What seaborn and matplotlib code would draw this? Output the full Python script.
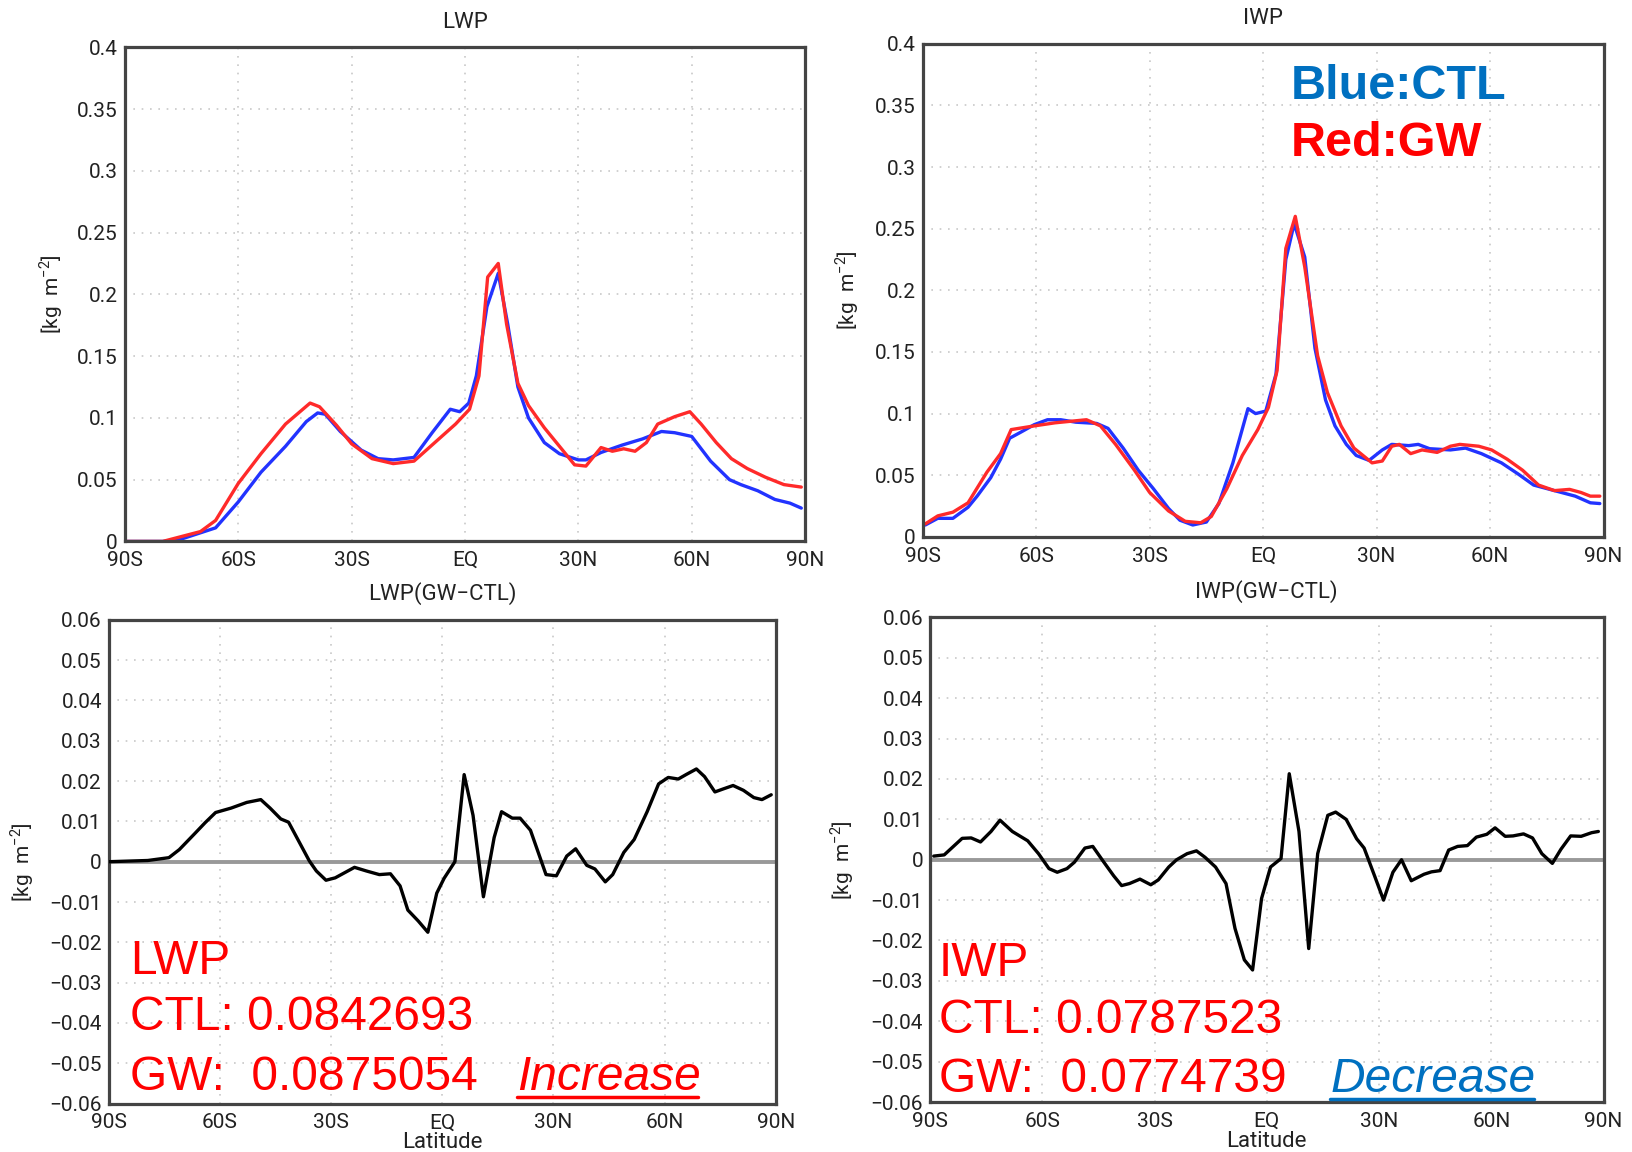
import numpy as np
import pandas as pd
import matplotlib
matplotlib.use("Agg")
import matplotlib.pyplot as plt
import seaborn as sns

# ---------------- data ----------------
lwp_ctl_lat = [-90, -80, -76, -66, -60, -54, -47.5, -42, -39, -37, -33, -27.5, -23, -19, -13.5,
               -8.7, -3.9, -1.4, 1, 3, 5.8, 8.8, 11.3, 14, 16.8, 21, 25, 30, 32, 36, 41.6, 47,
               52, 55.5, 60, 65, 70, 73, 77.5, 82, 86, 89]
lwp_ctl = [0, 0, 0.001, 0.011, 0.032, 0.056, 0.077, 0.097, 0.104, 0.103, 0.089, 0.074, 0.067,
           0.066, 0.068, 0.088, 0.107, 0.105, 0.112, 0.134, 0.19, 0.217, 0.176, 0.125, 0.1, 0.08,
           0.071, 0.066, 0.066, 0.072, 0.078, 0.083, 0.089, 0.088, 0.085, 0.065, 0.05, 0.046,
           0.041, 0.034, 0.031, 0.027]

lwp_gw_lat = [-90, -80, -70, -66, -60, -54, -47.5, -41, -38.5, -34, -30, -24.6, -19, -13.5, -8,
              -2.5, 1.2, 3.7, 6, 8.8, 11, 14, 16.8, 21, 25, 29, 32, 36, 39, 42, 45, 48, 51,
              55.5, 59.5, 62.5, 66.5, 70.5, 74.7, 79.5, 84.4, 89]
lwp_gw = [0, 0, 0.008, 0.017, 0.047, 0.071, 0.095, 0.112, 0.109, 0.094, 0.079, 0.067, 0.063,
          0.065, 0.08, 0.095, 0.107, 0.134, 0.214, 0.225, 0.176, 0.128, 0.11, 0.092, 0.077,
          0.062, 0.061, 0.076, 0.073, 0.075, 0.073, 0.08, 0.095, 0.101, 0.105, 0.095, 0.08,
          0.067, 0.059, 0.052, 0.046, 0.044]

iwp_ctl_lat = [-89.3, -86, -82, -78, -75.6, -72, -69.4, -67, -64, -60.5, -57, -53.5, -49.5,
               -44, -41, -37, -33, -29, -25, -22, -18.6, -15, -11.7, -8, -4, -2, 0.7, 3.4, 6,
               8.2, 11, 13.7, 16.5, 19, 22, 24.6, 28, 31.5, 34, 38.5, 41, 44, 49.5, 53.5, 57.7,
               63, 67.4, 71.5, 77, 82.5, 86.5, 89]
iwp_ctl = [0.0096, 0.015, 0.015, 0.024, 0.033, 0.048, 0.063, 0.080, 0.085, 0.091, 0.095, 0.095,
           0.093, 0.092, 0.088, 0.072, 0.054, 0.039, 0.023, 0.0135, 0.0096, 0.012, 0.027, 0.06,
           0.104, 0.100, 0.102, 0.132, 0.225, 0.254, 0.227, 0.153, 0.111, 0.09, 0.075, 0.066,
           0.062, 0.0705, 0.075, 0.074, 0.075, 0.0715, 0.0705, 0.072, 0.0675, 0.06, 0.051,
           0.042, 0.0375, 0.033, 0.0276, 0.027]

iwp_gw_lat = [-89.3, -86, -82, -78, -73, -69.4, -66.6, -60.5, -55, -46.7, -43, -39, -34, -30,
              -25, -20.6, -16.5, -13.7, -9.6, -5.5, -1.4, 1.4, 3.7, 6, 8.5, 11, 14.4, 17, 20.6,
              24, 28.8, 31.5, 34, 36, 39, 42, 46, 49.5, 52, 57, 60.4, 64.5, 68.6, 72.8, 77, 81,
              84, 86.5, 89]
iwp_gw = [0.0105, 0.017, 0.020, 0.0276, 0.0525, 0.0675, 0.087, 0.09, 0.0925, 0.095, 0.09, 0.075,
          0.054, 0.036, 0.021, 0.0126, 0.0114, 0.0165, 0.039, 0.066, 0.087, 0.105, 0.135, 0.234,
          0.26, 0.219, 0.147, 0.117, 0.09, 0.072, 0.06, 0.0615, 0.0735, 0.075, 0.0675, 0.0705,
          0.0685, 0.0735, 0.075, 0.0735, 0.0705, 0.063, 0.054, 0.042, 0.0375, 0.0385, 0.036,
          0.033, 0.033]

dlwp_lat = [-90, -79.5, -73.8, -71, -66.8, -64, -61.2, -57, -52.8, -49, -46.5, -43.6, -41.5,
            -38.7, -35.9, -34, -31.4, -28.9, -23.7, -20.5, -17, -14, -11.4, -9.3, -6.5, -3.9,
            -1.5, 0.5, 3.4, 5.9, 8.3, 11.1, 14, 16, 18.9, 21, 23.8, 28, 30.8, 33.6, 36, 39,
            41.2, 44, 46, 49, 51.8, 55.3, 58.4, 61, 63.7, 65.8, 68.6, 70.8, 73.6, 75.7, 78.5,
            81.3, 84.1, 86.3, 88.8]
dlwp = [0, 0.0003, 0.001, 0.003, 0.007, 0.0097, 0.0122, 0.0133, 0.0147, 0.0154, 0.0133, 0.0106,
        0.0098, 0.005, 0.0002, -0.0023, -0.0046, -0.004, -0.0014, -0.0023, -0.0032, -0.003,
        -0.006, -0.012, -0.0147, -0.0175, -0.0078, -0.0041, 0.0, 0.0216, 0.0115, -0.0087,
        0.006, 0.0124, 0.0108, 0.0108, 0.0078, -0.0032, -0.0035, 0.0014, 0.0032, -0.0009,
        -0.0018, -0.005, -0.0032, 0.0023, 0.0055, 0.0124, 0.0193, 0.0209, 0.0205, 0.0216,
        0.023, 0.0211, 0.0173, 0.018, 0.0189, 0.0177, 0.0159, 0.0154, 0.0166]

diwp_lat = [-89, -86.2, -81.4, -79, -76.5, -73.7, -71.3, -68, -63.9, -61, -58.2, -56, -53.4,
            -51.4, -48.6, -46.5, -43.7, -40.9, -38.8, -36.7, -33.9, -31, -29, -26.2, -24.1,
            -21.3, -18.8, -16.5, -13.7, -10.9, -8.5, -6, -3.8, -1.4, 1, 3.8, 6, 8.6, 11.2,
            13.6, 16.3, 18.4, 21.2, 24, 26, 28.8, 31.2, 33.7, 36, 38.6, 42, 44, 46.3, 48.6, 51,
            53.6, 56, 58.8, 61, 63.7, 65.8, 68.6, 71, 73.5, 76.3, 78.6, 81.2, 84, 86.8, 88.6]
diwp = [0.0009, 0.0012, 0.0053, 0.0054, 0.0044, 0.007, 0.0098, 0.007, 0.0047, 0.0015, -0.0022,
        -0.0031, -0.0022, -0.0006, 0.0029, 0.0033, -0.0004, -0.004, -0.0064, -0.0059, -0.0048,
        -0.0062, -0.005, -0.0018, 0.0, 0.0015, 0.0022, 0.0006, -0.0018, -0.0059, -0.017,
        -0.0248, -0.0273, -0.0096, -0.0018, 0.0003, 0.0213, 0.007, -0.022, 0.0015, 0.011,
        0.0118, 0.01, 0.0052, 0.0029, -0.004, -0.01, -0.0031, 0.0, -0.0052, -0.0036, -0.003,
        -0.0027, 0.0024, 0.0033, 0.0035, 0.0056, 0.0063, 0.0079, 0.0058, 0.0059, 0.0064,
        0.0054, 0.0015, -0.0009, 0.0026, 0.0059, 0.0058, 0.0067, 0.007]

lat_ticks = [-90, -60, -30, 0, 30, 60, 90]
lat_labels = ["90S", "60S", "30S", "EQ", "30N", "60N", "90N"]
top_yticks = [0, 0.05, 0.1, 0.15, 0.2, 0.25, 0.3, 0.35, 0.4]
top_ylabels = ["0", "0.05", "0.1", "0.15", "0.2", "0.25", "0.3", "0.35", "0.4"]
bot_yticks = [-0.06, -0.05, -0.04, -0.03, -0.02, -0.01, 0, 0.01, 0.02, 0.03, 0.04, 0.05, 0.06]
bot_ylabels = ["\u22120.06", "\u22120.05", "\u22120.04", "\u22120.03", "\u22120.02", "\u22120.01",
               "0", "0.01", "0.02", "0.03", "0.04", "0.05", "0.06"]

titles = ["LWP", "IWP", "LWP(GW\u2212CTL)", "IWP(GW\u2212CTL)"]
ylab = "[kg  m$^{-2}$]"

# ---------------- style ----------------
sns.set_style("white")
plt.rcParams["font.family"] = ["Roboto", "DejaVu Sans"]
plt.rcParams["mathtext.fontset"] = "custom"
plt.rcParams["mathtext.rm"] = "Roboto"

BLUE = "#2233ff"
RED = "#ff2a2a"
TXT_BLUE = "#0070c0"
TXT_RED = "#ff0000"
GRID = "#c8c8c8"
SPINE = "#444444"
TICKFONT = 15

fig = plt.figure(figsize=(16.33, 11.52), dpi=100)
ax_tl = fig.add_axes([0.0765, 0.530, 0.4165, 0.429])
ax_tr = fig.add_axes([0.565, 0.534, 0.417, 0.428])
ax_bl = fig.add_axes([0.0667, 0.042, 0.4083, 0.420])
ax_br = fig.add_axes([0.5695, 0.0434, 0.4125, 0.4206])


def style_axes(ax, yticks, ylabels, ylim, title, ylabel_x):
    ax.set_xlim(-90, 90)
    ax.set_ylim(*ylim)
    ax.set_xticks(lat_ticks)
    ax.set_xticklabels(lat_labels, fontsize=TICKFONT)
    ax.set_yticks(yticks)
    ax.set_yticklabels(ylabels, fontsize=TICKFONT)
    ax.tick_params(direction="in", length=6, width=1.5, color=SPINE, labelcolor="#222222")
    ax.tick_params(axis="x", pad=7)
    ax.tick_params(axis="y", pad=5)
    for sp in ax.spines.values():
        sp.set_color(SPINE)
        sp.set_linewidth(2.3)
    ax.grid(True, linestyle=(0, (1, 4)), color=GRID, linewidth=1.2)
    ax.set_axisbelow(True)
    ax.set_title(title, fontsize=16, pad=14, color="#222222")
    ax.set_ylabel(ylab, fontsize=15, color="#222222")
    ax.yaxis.set_label_coords(ylabel_x, 0.5)
    ax.set_xlabel("")


# ---------------- top panels ----------------
for ax, (clat, cval, glat, gval) in [
    (ax_tl, (lwp_ctl_lat, lwp_ctl, lwp_gw_lat, lwp_gw)),
    (ax_tr, (iwp_ctl_lat, iwp_ctl, iwp_gw_lat, iwp_gw)),
]:
    dfc = pd.DataFrame({"lat": clat, "val": cval})
    dfg = pd.DataFrame({"lat": glat, "val": gval})
    sns.lineplot(data=dfc, x="lat", y="val", ax=ax, color=BLUE, linewidth=2.4,
                 sort=False, estimator=None)
    sns.lineplot(data=dfg, x="lat", y="val", ax=ax, color=RED, linewidth=2.4,
                 sort=False, estimator=None)

style_axes(ax_tl, top_yticks, top_ylabels, (0, 0.4), titles[0], -0.088)
style_axes(ax_tr, top_yticks, top_ylabels, (0, 0.4), titles[1], -0.090)

ax_tr.text(0.540, 0.888, "Blue:CTL", transform=ax_tr.transAxes, fontsize=35,
           fontweight="bold", color=TXT_BLUE, family=["Liberation Sans", "DejaVu Sans"],
           va="baseline", ha="left")
ax_tr.text(0.540, 0.773, "Red:GW", transform=ax_tr.transAxes, fontsize=35,
           fontweight="bold", color=TXT_RED, family=["Liberation Sans", "DejaVu Sans"],
           va="baseline", ha="left")

# ---------------- bottom panels ----------------
for ax, lat, val in [(ax_bl, dlwp_lat, dlwp), (ax_br, diwp_lat, diwp)]:
    ax.axhline(0, color="#999999", linewidth=2.8, zorder=1.5)
    df = pd.DataFrame({"lat": lat, "val": val})
    sns.lineplot(data=df, x="lat", y="val", ax=ax, color="black", linewidth=2.4,
                 sort=False, estimator=None, zorder=3)

style_axes(ax_bl, bot_yticks, bot_ylabels, (-0.06, 0.06), titles[2], -0.110)
style_axes(ax_br, bot_yticks, bot_ylabels, (-0.06, 0.06), titles[3], -0.110)
for ax in (ax_bl, ax_br):
    ax.set_xlabel("Latitude", fontsize=16, color="#222222", labelpad=0)

ann_font = ["Liberation Sans", "DejaVu Sans"]
ANN = 34.5
# LWP annotation
ax_bl.text(-84.4, -0.0279, "LWP", fontsize=ANN, color=TXT_RED, family=ann_font, va="baseline")
ax_bl.text(-84.4, -0.0418, "CTL: 0.0842693", fontsize=ANN, color=TXT_RED, family=ann_font,
           va="baseline")
ax_bl.text(-84.4, -0.0566, "GW:  0.0875054", fontsize=ANN, color=TXT_RED, family=ann_font,
           va="baseline")
ax_bl.text(20.3, -0.0566, "Increase", fontsize=ANN, color=TXT_RED, family=ann_font,
           style="italic", va="baseline")
ax_bl.plot([20.3, 69.0], [-0.0584, -0.0584], color=TXT_RED, linewidth=2.5, zorder=4)

# IWP annotation
ax_br.text(-87.6, -0.0288, "IWP", fontsize=ANN, color=TXT_RED, family=ann_font, va="baseline")
ax_br.text(-87.6, -0.0428, "CTL: 0.0787523", fontsize=ANN, color=TXT_RED, family=ann_font,
           va="baseline")
ax_br.text(-87.6, -0.0575, "GW:  0.0774739", fontsize=ANN, color=TXT_RED, family=ann_font,
           va="baseline")
ax_br.text(17.0, -0.0575, "Decrease", fontsize=ANN, color=TXT_BLUE, family=ann_font,
           style="italic", va="baseline")
ax_br.plot([17.0, 71.4], [-0.0593, -0.0593], color=TXT_BLUE, linewidth=2.5, zorder=4)

fig.savefig("out.png", dpi=100)
